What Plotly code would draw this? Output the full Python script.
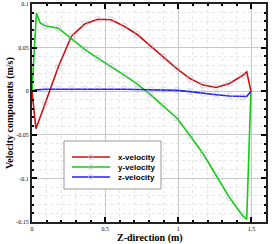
import plotly.graph_objects as go

z = [0.0, 0.027, 0.09, 0.18, 0.27, 0.36, 0.45, 0.54, 0.63, 0.72, 0.81, 0.90, 0.99,
     1.08, 1.17, 1.26, 1.35, 1.44, 1.468, 1.497]
z_y = [0.0, 0.03, 0.057, 0.09, 0.18, 0.27, 0.36, 0.45, 0.54, 0.63, 0.72, 0.81, 0.90, 0.99,
       1.08, 1.17, 1.26, 1.35, 1.44, 1.468, 1.497]
x_vel = [0.0, -0.043, -0.014, 0.028, 0.063, 0.077, 0.0825, 0.082, 0.0745, 0.065, 0.052,
         0.039, 0.026, 0.0145, 0.007, 0.0042, 0.0088, 0.018, 0.0222, 0.0]
y_vel = [0.0, 0.0895, 0.078, 0.075, 0.0722, 0.060, 0.048, 0.038, 0.0286, 0.0184, 0.0082,
         -0.0039, -0.0173, -0.0307, -0.0507, -0.0718, -0.097, -0.122, -0.1427, -0.147, 0.0]
z_vel = [0.0, 0.0015, 0.0022, 0.0023, 0.0025, 0.0025, 0.0025, 0.0024, 0.0022, 0.002,
         0.0018, 0.0015, 0.001, -0.0005, -0.0025, -0.004, -0.0055, -0.0065, -0.006, 0.0]
series_names = ["x-velocity", "y-velocity", "z-velocity"]
series_colors = ["#cc1111", "#11cc11", "#2222ee"]
x_ticks = [0, 0.5, 1, 1.5]
x_ticklabels = ["0", "0.5", "1", "1.5"]
y_ticks = [0.1, 0.05, 0, -0.05, -0.1, -0.15]
y_ticklabels = ["0.1", "0.05", "0", "-0.05", "-0.1", "-0.15"]

W, H = 276, 244
L, R, T, B = 32, 10, 4, 22
PW, PH = W - L - R, H - T - B


def px(xp):  # pixel x -> paper x
    return (xp - L) / PW


def py(yp):  # pixel y (from top) -> paper y
    return (H - B - yp) / PH


def marker_sizes(zs):
    return [0 if (v < 0.08 or v > 1.45) else 6 for v in zs]


mk = dict(symbol="circle-open", color="rgba(185,185,210,0.85)", line=dict(width=1))

fig = go.Figure()
for xs, ys, name, col in [(z, x_vel, series_names[0], series_colors[0]),
                          (z_y, y_vel, series_names[1], series_colors[1]),
                          (z, z_vel, series_names[2], series_colors[2])]:
    fig.add_trace(go.Scatter(x=xs, y=ys, mode="lines+markers", name=name,
                             line=dict(color=col, width=1.6),
                             marker=dict(size=marker_sizes(xs), **mk),
                             showlegend=False))

tickfont = dict(family="Liberation Serif", size=6, color="black")
common = dict(ticks="inside", ticklen=5, tickwidth=2, tickcolor="black",
              showline=True, linewidth=2, linecolor="#222", mirror="allticks",
              showgrid=True, gridcolor="#c8c8c8", gridwidth=1, zeroline=False,
              tickfont=tickfont, automargin=False)
fig.update_xaxes(range=[0, 1.6], tickvals=x_ticks, ticktext=x_ticklabels,
                 minor=dict(dtick=0.1, ticks="inside", ticklen=2, tickcolor="black",
                            showgrid=True, gridcolor="#e6e6e6", griddash="dot"),
                 **common)
fig.update_yaxes(range=[-0.15, 0.1], tickvals=y_ticks, ticktext=y_ticklabels,
                 minor=dict(dtick=0.01, ticks="inside", ticklen=2, tickcolor="black",
                            showgrid=True, gridcolor="#e6e6e6", griddash="dot"),
                 **common)

titlefont = dict(family="Liberation Serif", size=10, color="black")
annotations = [
    dict(text="<b>Z-direction (m)</b>", x=px(150), y=py(238), xref="paper", yref="paper",
         showarrow=False, font=titlefont, xanchor="center", yanchor="middle"),
    dict(text="<b>Velocity components (m/s)</b>", x=px(10), y=py(113), xref="paper",
         yref="paper", showarrow=False, font=titlefont, textangle=-90,
         xanchor="center", yanchor="middle"),
]
shapes = [dict(type="rect", xref="paper", yref="paper", x0=px(64), x1=px(161),
               y0=py(189), y1=py(141), line=dict(color="#999", width=1),
               fillcolor="white", layer="above")]
for i, (name, col) in enumerate(zip(series_names, series_colors)):
    yy = 157 + 10 * i
    shapes.append(dict(type="line", xref="paper", yref="paper", x0=px(72), x1=px(110),
                       y0=py(yy), y1=py(yy), line=dict(color=col, width=1.6),
                       layer="above"))
    shapes.append(dict(type="circle", xref="paper", yref="paper",
                       x0=px(88.5), x1=px(93), y0=py(yy + 2.2), y1=py(yy - 2.2),
                       line=dict(color="rgba(185,185,210,0.85)", width=1),
                       layer="above"))
    annotations.append(dict(text="<b>" + name + "</b>", x=px(116), y=py(yy),
                            xref="paper", yref="paper", showarrow=False,
                            xanchor="left", yanchor="middle",
                            font=dict(family="Liberation Sans", size=8, color="black")))

fig.update_layout(width=W, height=H, margin=dict(l=L, r=R, t=T, b=B),
                  paper_bgcolor="white", plot_bgcolor="white",
                  showlegend=False, annotations=annotations, shapes=shapes)

fig.write_html("out.html", config={"displayModeBar": False},
               post_script="document.body.style.margin='0';document.body.style.padding='0';")
